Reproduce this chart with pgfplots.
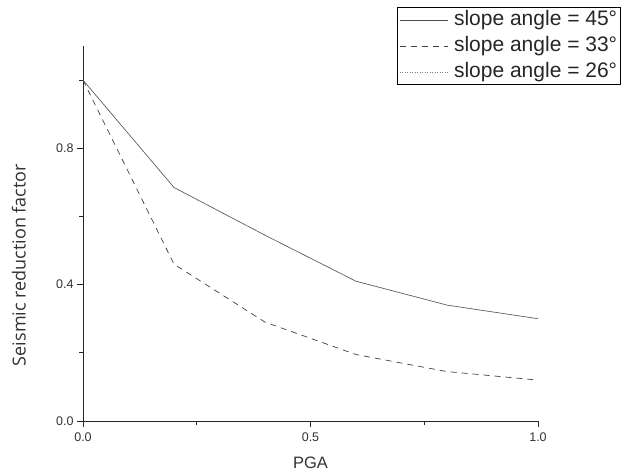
\documentclass[border=0pt]{standalone}
\usepackage{pgfplots}
\pgfplotsset{compat=1.18}
\usepackage{fontspec}
\setmainfont{Liberation Sans}
\newfontfamily\labfont{Open Sans}
\begin{document}
\begin{tikzpicture}
\path[use as bounding box] (-83pt,-53pt) rectangle (561pt,421pt);
\begin{axis}[
  width=455pt, height=375pt, scale only axis,
  xmin=0, xmax=1, ymin=0, ymax=1.1,
  axis x line*=bottom, axis y line*=left,
  axis line style={black!85, line width=0.8pt},
  tick align=outside,
  major tick length=6pt, minor tick length=4pt,
  tick style={black!85, line width=0.7pt},
  xtick={0,0.5,1}, minor xtick={0.25,0.75},
  ytick={0,0.4,0.8}, minor ytick={0.2,0.6,1.0},
  /pgf/number format/assume math mode=true,
  /pgf/number format/fixed,
  /pgf/number format/fixed zerofill,
  /pgf/number format/precision=1,
  tick label style={font=\fontsize{12.5}{14}\selectfont, text=black!80},
  xticklabel style={yshift=-2pt},
  xlabel={PGA},
  ylabel={Seismic reduction factor},
  xlabel style={font=\fontsize{16.5}{18}\selectfont, text=black!80, at={(axis description cs:0.5,-0.112)}, anchor=center},
  ylabel style={font=\labfont\fontsize{18}{20}\selectfont, text=black!80, at={(axis description cs:-0.141,0.416)}, anchor=center},
  legend style={at={(axis description cs:0.690,1.104)}, anchor=north west,
    draw=black, line width=0.8pt, font=\fontsize{21}{22}\selectfont,
    row sep=5pt, inner xsep=2pt, inner ysep=2pt, text=black!85,
    nodes={inner sep=1pt, text height=15pt, text depth=4pt},
    /tikz/every odd column/.append style={column sep=5pt}},
  legend cell align=left,
  legend image code/.code={\draw[#1] (0pt,0pt) -- (48pt,0pt);},
  clip=false,
]
\addplot[black!70, line width=0.6pt] coordinates {(0,1.0) (0.2,0.685) (0.4,0.545) (0.6,0.41) (0.8,0.34) (1.0,0.30)};
\addlegendentry{slope angle = 45°}
\addplot[black!75, line width=0.7pt, dash pattern=on 6pt off 5pt] coordinates {(0,1.0) (0.2,0.46) (0.4,0.29) (0.6,0.195) (0.8,0.145) (1.0,0.12)};
\addlegendentry{slope angle = 33°}
\addplot[black!50, line width=0.5pt, dotted] coordinates {(0,1.0) (0.2,0.685) (0.4,0.545) (0.6,0.41) (0.8,0.34) (1.0,0.30)};
\addlegendentry{slope angle = 26°}
\end{axis}
\end{tikzpicture}
\end{document}
